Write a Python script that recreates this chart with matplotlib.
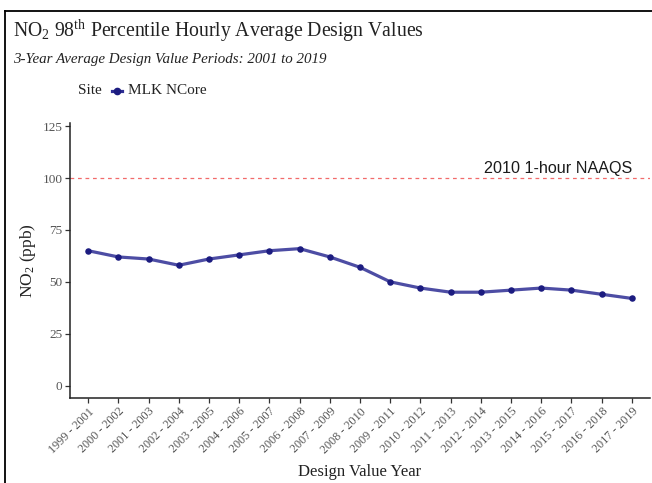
import matplotlib
matplotlib.use("Agg")
import matplotlib.pyplot as plt
from matplotlib.lines import Line2D

plt.rcParams.update({
    "font.family": "Liberation Serif",
    "mathtext.fontset": "custom",
    "mathtext.rm": "Liberation Serif",
    "mathtext.it": "Liberation Serif:italic",
    "mathtext.bf": "Liberation Serif:bold",
})

periods = ["1999 - 2001", "2000 - 2002", "2001 - 2003", "2002 - 2004", "2003 - 2005",
           "2004 - 2006", "2005 - 2007", "2006 - 2008", "2007 - 2009", "2008 - 2010",
           "2009 - 2011", "2010 - 2012", "2011 - 2013", "2012 - 2014", "2013 - 2015",
           "2014 - 2016", "2015 - 2017", "2016 - 2018", "2017 - 2019"]
mlk_ncore = [65, 62, 61, 58, 61, 63, 65, 66, 62, 57, 50, 47, 45, 45, 46, 47, 46, 44, 42]
naaqs = 100
y_ticks = [0, 25, 50, 75, 100, 125]

fig = plt.figure(figsize=(6.52, 4.83), dpi=100)
ax = fig.add_axes([0.1074, 0.176, 0.8896, 0.569])

x = list(range(len(periods)))
ax.plot(x, mlk_ncore, color="#2e2e94", lw=2.3, alpha=0.85, zorder=3,
        solid_capstyle="round")
ax.scatter(x, mlk_ncore, s=22, color="#1c1c80", zorder=4, linewidths=0)

ax.axhline(naaqs, color="#f26b6b", lw=0.9, ls=(0, (3, 3)), zorder=2)
ax.text(len(periods) - 1, naaqs + 1.2, "2010 1-hour NAAQS", ha="right", va="bottom",
        fontsize=11.6, family="Liberation Sans", color="#1a1a1a")

ax.set_xlim(-0.6, len(periods) - 0.4)
ax.set_ylim(-6, 126.5)
ax.set_xticks(x)
ax.set_xticklabels(periods, rotation=45, ha="right", rotation_mode="anchor",
                   fontsize=8.7, color="#555555")
ax.set_yticks(y_ticks)
ax.set_yticklabels([str(v) for v in y_ticks], fontsize=9.5, color="#555555")
ax.tick_params(axis="both", length=3.5, width=0.9, color="#333333", pad=2)

for side in ["top", "right"]:
    ax.spines[side].set_visible(False)
for side in ["left", "bottom"]:
    ax.spines[side].set_linewidth(1.1)
    ax.spines[side].set_color("#222222")

ax.set_xlabel("Design Value Year", fontsize=12, color="#222222", labelpad=6)
ax.set_ylabel(r"NO$_2$ (ppb)", fontsize=12.5, color="#222222", labelpad=3)

fig.text(0.02, 0.935, r"NO$_2$ 98$^{\mathrm{th}}$ Percentile Hourly Average Design Values",
         fontsize=14.2, color="#222222", va="center")
fig.text(0.02, 0.877, "3-Year Average Design Value Periods: 2001 to 2019",
         fontsize=10.8, style="italic", color="#222222", va="center")

# legend row
fig.text(0.12, 0.812, "Site", fontsize=11, color="#222222", va="center")
fig.add_artist(Line2D([0.172, 0.187], [0.812, 0.812], color="#2e2e94", lw=2.3,
                      transform=fig.transFigure))
fig.add_artist(Line2D([0.1795], [0.812], color="#1c1c80", marker="o", markersize=4.5,
                      lw=0, transform=fig.transFigure))
fig.text(0.196, 0.812, "MLK NCore", fontsize=11, color="#222222", va="center")

# outer frame, top and left edges
fig.add_artist(Line2D([0.0077, 1.0], [0.977, 0.977], color="black", lw=1.3,
                      transform=fig.transFigure))
fig.add_artist(Line2D([0.0077, 0.0077], [0.0, 0.977], color="black", lw=1.3,
                      transform=fig.transFigure))

fig.savefig("out.png", dpi=100)
